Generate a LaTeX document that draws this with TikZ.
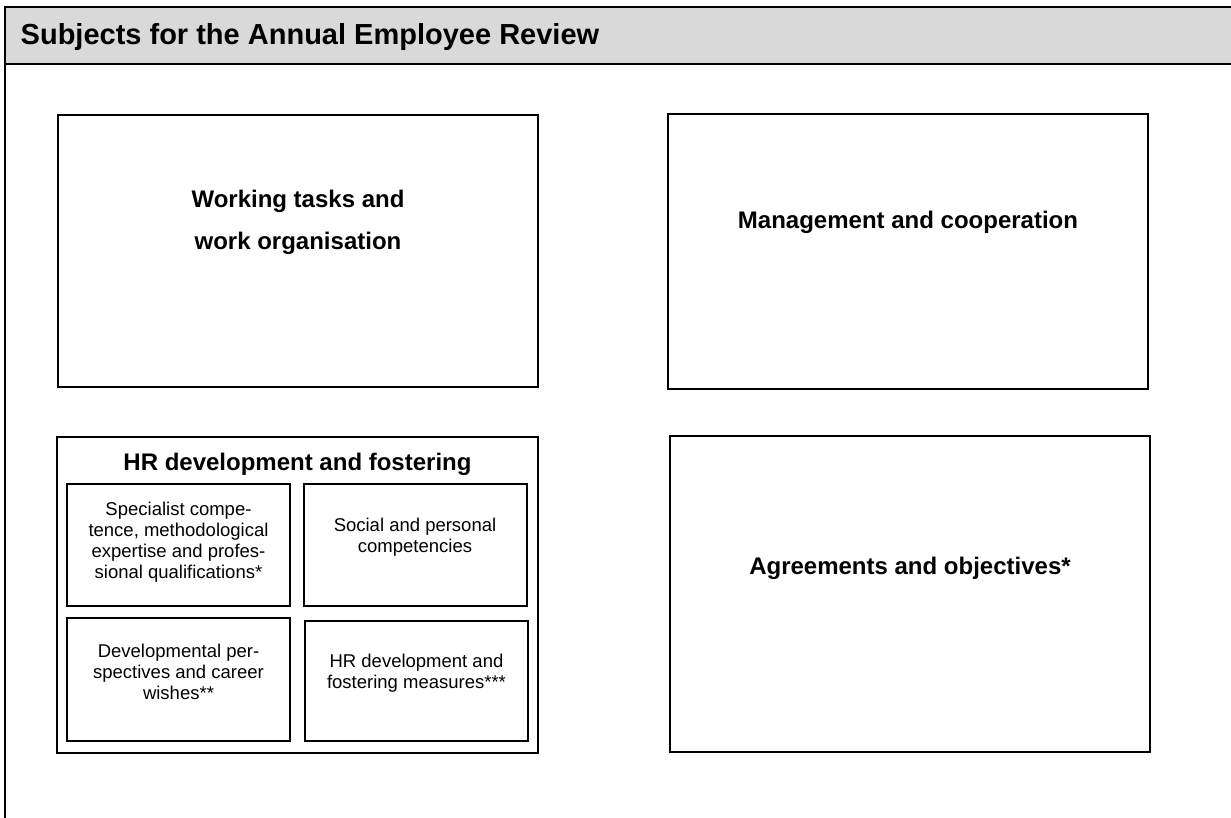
\documentclass[tikz,border=0pt]{standalone}
\usepackage{fontspec}
\setmainfont{Liberation Sans}
\usetikzlibrary{positioning}
\begin{document}
\begin{tikzpicture}[
                x = 1pt, y = -1pt,
                frame/.style = {draw, line width = 2pt, inner sep = 0mm},
                topic/.style = {frame, minimum width = 480pt},
                sub/.style = {frame, minimum width = 223pt},
                big/.style = {align = center, inner sep = 0mm, font = \fontsize{24}{42}\selectfont\bfseries},
                small/.style = {align = center, inner sep = 0mm, font = \fontsize{18.5}{21}\selectfont},
            ]
            \useasboundingbox (0, 0) rectangle (1231, 818);

            % header band
            \node (head) at (622.5, 35.5) [fill = black!15, inner sep = 0mm, minimum width = 1235pt, minimum height = 57pt] {};
            \draw[line width = 2pt] (1240, 7) -- (5, 7) -- (5, 830);
            \draw[line width = 2.3pt] (5, 64) -- (1240, 64);
            \node (title) at (20.5, 45) [anchor = base west, inner sep = 0mm, font = \fontsize{29}{34}\selectfont\bfseries] {Subjects for the Annual Employee Review};

            \node (work) at (298, 251) [topic, minimum height = 272pt] {};
            \node (manage) at (908, 251.5) [topic, minimum height = 275pt] {};
            \node (hr) at (297.5, 595) [topic, minimum width = 481pt, minimum height = 316pt] {};
            \node (agree) at (910, 594) [topic, minimum height = 316pt] {};

            \node (workT) at (298, 222) [big] {Working tasks and\\work organisation};
            \node (manageT) at (908, 222.5) [big] {Management and cooperation};
            \node (agreeT) at (910, 568) [big] {Agreements and objectives*};
            \node (hrT) at (297.5, 464.5) [big] {HR development and fostering};

            \node (spec) at (178.5, 545) [sub, minimum height = 122pt] {};
            \node (social) at (415, 545) [sub, minimum height = 122pt] {};
            \node (career) at (178.5, 679.5) [sub, minimum height = 123pt] {};
            \node (measures) at (416.5, 681) [sub, minimum height = 120pt] {};

            \node (specT) at (178.5, 542) [small] {Specialist compe-\\tence, methodological\\expertise and profes-\\sional qualifications*};
            \node (socialT) at (415, 537) [small] {Social and personal\\competencies};
            \node (careerT) at (178.5, 671.5) [small] {Developmental per-\\spectives and career\\wishes**};
            \node (measuresT) at (416.5, 673.5) [small] {HR development and\\fostering measures***};
        \end{tikzpicture}
\end{document}
